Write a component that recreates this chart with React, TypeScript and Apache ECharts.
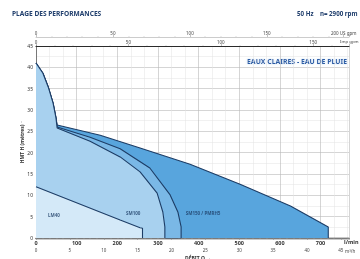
import React, { useEffect, useRef } from 'react';
import * as echarts from 'echarts';

// Flow in l/min, head H in metres
const steepCurve: number[][] = [[0, 41], [17, 38.6], [30, 35.4], [42, 31.6], [49, 28.2], [52, 26.5]];
const curveSM150: number[][] = [[158, 24.1], [256, 21.1], [379, 17.3], [502, 12.6], [626, 7.5], [719, 2.6], [719, 0]];
const curveSM125: number[][] = [[52, 26.0], [133, 23.6], [207, 20.9], [280, 16.4], [330, 10.1], [349, 6.1], [357, 2.6], [357, 0]];
const curveSM100: number[][] = [[52, 25.8], [133, 22.7], [207, 19.0], [256, 15.5], [298, 10.5], [312, 6.1], [317, 2.6], [317, 0]];
const curveLM40: number[][] = [[0, 12], [207, 4.2], [256, 2.4], [262, 2.3], [262, 0]];

const regionLabels = [
  { name: 'LM40', value: [44, 5.4] },
  { name: 'SM100', value: [239, 5.9] },
  { name: 'SM150 / PMRH5', value: [411, 5.9] },
];
const boxLabels = ['SM125', 'SM150'];

const FLOW_MAX = 770; // l/min
const H_MAX = 45;
const LPM_PER_M3H = 16.667;
const LPM_PER_USGPM = 3.785;
const LPM_PER_IMPGPM = 4.546;

const OUTLINE = '#1d3d66';
const FONT = '"Noto Sans", "Open Sans", sans-serif';

export default function App() {
  const ref = useRef<HTMLDivElement>(null);
  useEffect(() => {
    if (!ref.current) return;
    const chart = echarts.init(ref.current, undefined, { renderer: 'svg' });
    const m3hMax = FLOW_MAX / LPM_PER_M3H;
    const usMax = FLOW_MAX / LPM_PER_USGPM;
    const impMax = FLOW_MAX / LPM_PER_IMPGPM;
    const areaSeries = (name: string, data: number[][], color: string, extra: any = {}) => ({
      type: 'line',
      name,
      data,
      showSymbol: false,
      symbol: 'none',
      lineStyle: { color: OUTLINE, width: 1.1 },
      areaStyle: { color, opacity: 1 },
      silent: true,
      ...extra,
    });
    const lbl = (size: number, color = '#333', weight: any = 'bold') => ({
      fontSize: size, color, fontWeight: weight, fontFamily: FONT,
    });
    chart.setOption({
      animation: false,
      textStyle: { fontFamily: FONT },
      grid: { left: 36, right: 11, top: 46, bottom: 21, containLabel: false },
      xAxis: [
        {
          type: 'value', position: 'bottom', min: 0, max: FLOW_MAX, interval: 100,
          axisLine: { show: true, lineStyle: { color: '#2b2b2b', width: 1.4 } },
          axisTick: { show: false },
          axisLabel: { ...lbl(5.5), margin: 2, formatter: (v: number) => (v % 100 === 0 && v < FLOW_MAX ? String(v) : '') },
          splitLine: { show: true, lineStyle: { color: '#b9b9b9', width: 0.6 } },
          minorTick: { show: false, splitNumber: 3 },
          minorSplitLine: { show: true, lineStyle: { color: '#e2e2e2', width: 0.5 } },
        },
        {
          type: 'value', position: 'bottom', offset: 7, min: 0, max: m3hMax, interval: 5,
          axisLine: { show: true, lineStyle: { color: '#b0b0b0', width: 0.6 } },
          axisTick: { show: true, length: 2, lineStyle: { color: '#888', width: 0.5 } },
          minorTick: { show: true, splitNumber: 5, length: 1, lineStyle: { color: '#aaa', width: 0.4 } },
          axisLabel: { ...lbl(4.5, '#444', 'normal'), margin: 2, formatter: (v: number) => (v % 5 === 0 && v < m3hMax - 0.5 ? String(v) : '') },
          splitLine: { show: false },
        },
        {
          type: 'value', position: 'top', offset: 9, min: 0, max: usMax, interval: 50,
          axisLine: { show: true, lineStyle: { color: '#aaa', width: 0.6 } },
          axisTick: { show: true, length: 2, lineStyle: { color: '#888', width: 0.5 } },
          minorTick: { show: true, splitNumber: 5, length: 1, lineStyle: { color: '#aaa', width: 0.4 } },
          axisLabel: { ...lbl(4.5, '#444', 'normal'), margin: 2, formatter: (v: number) => (v % 50 === 0 && v < usMax - 1 ? (v === 200 ? '200 US gpm' : String(v)) : '') },
          splitLine: { show: false },
        },
        {
          type: 'value', position: 'top', offset: 0, min: 0, max: impMax, interval: 50,
          axisLine: { show: true, lineStyle: { color: '#2b2b2b', width: 1.2 } },
          axisTick: { show: true, length: 2, lineStyle: { color: '#888', width: 0.5 } },
          minorTick: { show: true, splitNumber: 5, length: 1, lineStyle: { color: '#aaa', width: 0.4 } },
          axisLabel: { ...lbl(4.5, '#444', 'normal'), margin: 2, formatter: (v: number) => (v % 50 === 0 && v < impMax - 1 ? String(v) : '') },
          splitLine: { show: false },
        },
      ],
      yAxis: [
        {
          type: 'value', min: 0, max: H_MAX, interval: 5,
          axisLine: { show: true, lineStyle: { color: '#2b2b2b', width: 1 } },
          axisTick: { show: false },
          axisLabel: { ...lbl(5, '#333', 'normal'), margin: 3 },
          splitLine: { show: true, lineStyle: { color: '#b9b9b9', width: 0.6 } },
          minorTick: { show: false, splitNumber: 2 },
          minorSplitLine: { show: true, lineStyle: { color: '#e2e2e2', width: 0.5 } },
        },
        {
          type: 'value', min: 0, max: H_MAX, offset: 21, position: 'left',
          axisLine: { show: true, lineStyle: { color: '#999', width: 0.7 } },
          axisTick: { show: false }, axisLabel: { show: false }, splitLine: { show: false },
        },
      ],
      series: [
        areaSeries('SM150 / PMRH5', [...steepCurve, ...curveSM150], '#58a5dd', { z: 2 }),
        areaSeries('SM125', [...steepCurve.slice(0, -1), ...curveSM125], '#7ab8e6', {
          z: 3,
          markArea: {
            silent: true,
            itemStyle: { color: '#8fc3ea', borderColor: OUTLINE, borderWidth: 0.6 },
            label: { show: true, position: 'inside', ...lbl(2.8, OUTLINE) },
            data: [
              [{ name: boxLabels[0], coord: [317, 2.6] }, { coord: [357, 1.3] }],
              [{ name: boxLabels[1], coord: [317, 1.3] }, { coord: [357, 0] }],
            ],
          },
        }),
        areaSeries('SM100', [...steepCurve.slice(0, -1), ...curveSM100], '#a8d1ef', { z: 4 }),
        areaSeries('LM40', curveLM40, '#d4e9f8', { z: 5 }),
        {
          type: 'scatter', z: 10, symbolSize: 0, silent: true,
          data: regionLabels,
          label: { show: true, position: 'inside', formatter: '{b}', ...lbl(4.5, OUTLINE) },
        },
      ],
      graphic: [
        { type: 'text', left: 12, top: 10, style: { text: 'PLAGE DES PERFORMANCES', fill: '#22406e', font: `bold 6.6px ${FONT}` } },
        { type: 'text', left: 297, top: 10, style: { text: '50 Hz    n= 2900 rpm', fill: '#22406e', font: `bold 6.2px ${FONT}` } },
        { type: 'text', left: 247, top: 58, style: { text: 'EAUX CLAIRES - EAU DE PLUIE', fill: '#2a5ca6', font: `bold 6.9px ${FONT}`, textShadowColor: '#bcd9f2', textShadowBlur: 2 } },
        { type: 'text', left: 340, top: 39, style: { text: 'Imp gpm', fill: '#444', font: `4.3px ${FONT}` } },
        { type: 'text', left: 344, top: 239, style: { text: 'l/min', fill: '#333', font: `bold 5.5px ${FONT}` } },
        { type: 'text', left: 345, top: 248, style: { text: 'm³/h', fill: '#444', font: `4.5px ${FONT}` } },
        { type: 'text', left: 185, top: 255, style: { text: 'DÉBIT Q →', fill: '#333', font: `bold 5px ${FONT}` } },
        { type: 'text', x: 22, y: 142, rotation: Math.PI / 2, style: { text: 'HMT H (mètres) ↑', fill: '#333', font: `bold 5px ${FONT}`, align: 'center', verticalAlign: 'middle' } },
      ],
    });
    return () => chart.dispose();
  }, []);
  return <div ref={ref} style={{ position: 'fixed', left: 0, top: 0, width: 360, height: 259 }} />;
}
